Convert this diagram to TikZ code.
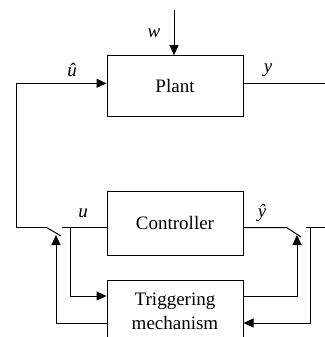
\documentclass[tikz,border=0pt]{standalone}
\usepackage{fontspec}
\setmainfont{Liberation Serif}
\usetikzlibrary{arrows.meta,positioning,calc}
\tikzset{
  every node/.style={font=\fontsize{9.5}{12}\selectfont},
  blk/.style={draw, line width=0.5pt, minimum width=68pt, inner sep=0pt, align=center},
  ln/.style ={line width=0.5pt},
  ar/.style ={-{Triangle[length=5pt,width=4.5pt]}, line width=0.5pt},
  lbl/.style={font=\itshape\fontsize{9.5}{12}\selectfont, inner sep=0pt},
}

\begin{document}
\begin{tikzpicture}[x=0.5pt, y=-0.5pt]
\useasboundingbox (0,0) rectangle (325,337);

% ---------------- blocks ----------------
\node[blk, minimum height=30.5pt] (plant) at (175,86.2) {Plant};
\node[blk, minimum height=31.7pt] (ctrl)  at (175,223.4) {Controller};
\node[blk, minimum height=31.5pt] (trig)  at (175,311.5) {Triggering\\mechanism};

% ---------------- helper points ----------------
\coordinate (wtop)   at (174,10);
\coordinate (fbL)    at (16,83.3);
\coordinate (yEnd)   at (325,83.3);
\coordinate (swL)    at (47,227.7);
\coordinate (bladeL) at (61,236);
\coordinate (uL)     at (62,227.7);
\coordinate (brL)    at (70,227.7);
\coordinate (tipL)   at (56,235);
\coordinate (swR)    at (287,227.7);
\coordinate (bladeR) at (301,237);
\coordinate (yR)     at (306,227.7);
\coordinate (brR)    at (310,227.7);
\coordinate (rEnd)   at (325,227.7);
\coordinate (tipR)   at (297,235);
\coordinate (hiY)    at (0,296);
\coordinate (loY)    at (0,323);

% ---------------- labels ----------------
\node[lbl] (wl)  at (154,33)  {w};
\node[lbl] (uhl) at (72,70)   {û};
\node[lbl] (yl)  at (268,70)  {y};
\node[lbl] (ul)  at (83,213)  {u};
\node[lbl] (yhl) at (262,213) {ŷ};

% ---------------- connectors ----------------
\draw[ar] (wtop) -- (wtop |- plant.north);
\draw[ar] (swL) -- (swL -| fbL) -- (fbL) -- (fbL -| plant.west);
\draw[ln] (plant.east |- fbL) -- (yEnd);

% left switch
\draw[ln] (swL) -- (bladeL);
\draw[ln] (uL) -- (uL -| ctrl.west);
\draw[ar] (brL) |- (trig.west |- hiY);
\draw[ar] (trig.west |- loY) -| (tipL);

% right switch
\draw[ln] (ctrl.east |- swR) -- (swR) -- (bladeR);
\draw[ln] (yR) -- (rEnd);
\draw[ar] (brR) |- (trig.east |- loY);
\draw[ar] (trig.east |- hiY) -| (tipR);

\end{tikzpicture}
\end{document}
